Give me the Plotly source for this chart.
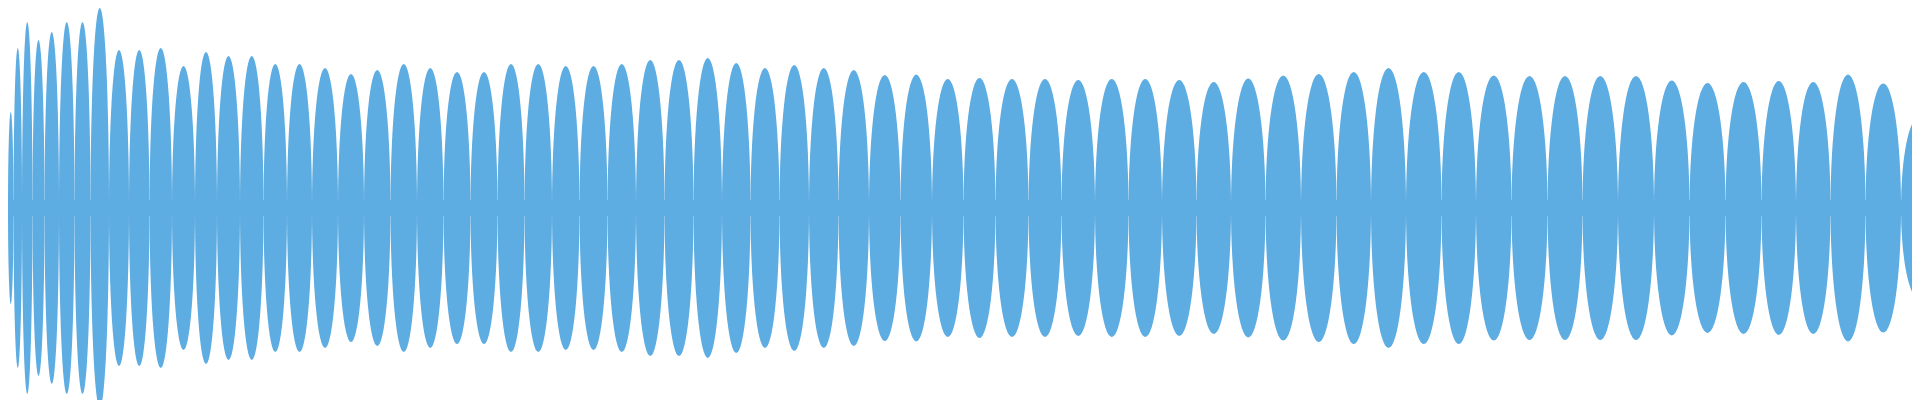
import plotly.graph_objects as go

# lobe centre positions (time units = pixels) and envelope amplitudes (fraction of full scale)
peak_x = [2, 9, 19, 30, 43, 59, 74, 91, 111, 131, 152, 176, 198, 220, 244, 267, 291, 317, 343, 369,
          396, 422, 449, 476, 503, 530, 558, 585, 614,
          642, 671, 700, 728, 757, 786, 816, 845, 877, 908, 940, 971, 1004, 1037, 1070, 1104, 1137,
          1171, 1206, 1240, 1275,
          1311, 1346, 1380, 1416, 1451, 1485, 1522, 1557, 1592, 1628, 1664, 1699, 1736, 1771, 1805,
          1840, 1875, 1911]
peak_amp = [0.48, 0.80, 0.93, 0.84, 0.88, 0.93, 0.93, 1.0, 0.79, 0.79, 0.80, 0.71, 0.78, 0.76, 0.76,
            0.72, 0.72, 0.70, 0.67, 0.69, 0.72, 0.70, 0.68, 0.68, 0.72, 0.72, 0.71, 0.71, 0.72,
            0.74, 0.74, 0.75, 0.725, 0.70, 0.715, 0.70, 0.69, 0.665, 0.667, 0.645, 0.65, 0.645, 0.645,
            0.64, 0.645, 0.645, 0.64, 0.63, 0.647, 0.663,
            0.67, 0.68, 0.70, 0.68, 0.68, 0.663, 0.66, 0.66, 0.66, 0.66, 0.637, 0.625, 0.63, 0.635,
            0.63, 0.667, 0.623, 0.455]
band = 0.04
color = "#5DACE2"

fig = go.Figure()
# centre band
fig.add_trace(go.Scatter(x=[0, 1920, 1920, 0, 0], y=[-band, -band, band, band, -band],
                         mode="lines", fill="toself", fillcolor=color, line=dict(color=color, width=0),
                         hoverinfo="skip"))
n = len(peak_x)
shapes = []
for i in range(n):
    left = (peak_x[i - 1] + peak_x[i]) / 2 if i > 0 else 0
    right = (peak_x[i] + peak_x[i + 1]) / 2 if i < n - 1 else peak_x[i] + (peak_x[i] - peak_x[i - 1]) / 2
    shapes.append(dict(type="circle", xref="x", yref="y", x0=left, x1=right,
                       y0=-peak_amp[i], y1=peak_amp[i], fillcolor=color,
                       line=dict(width=0), layer="above"))
fig.update_layout(width=1920, height=400, margin=dict(l=0, r=0, t=0, b=0),
                  paper_bgcolor="white", plot_bgcolor="white", showlegend=False,
                  shapes=shapes,
                  xaxis=dict(range=[0, 1920], visible=False),
                  yaxis=dict(range=[-1, 1], visible=False))
fig.write_html("out.html")
